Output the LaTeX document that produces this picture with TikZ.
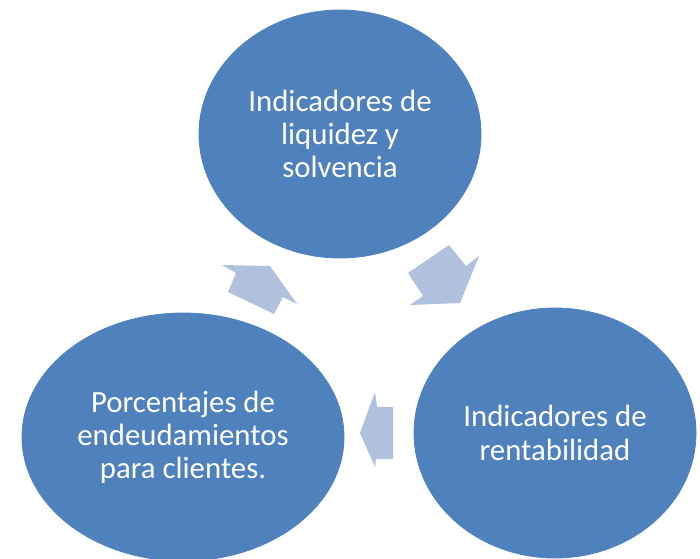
\documentclass[tikz,border=0pt]{standalone}
\usepackage{fontspec}
\setmainfont{Carlito}
\usetikzlibrary{shapes.geometric}
\definecolor{cycleblue}{HTML}{4F81BD}
\definecolor{arrowblue}{HTML}{B0C1DE}
\tikzset{
	phase/.style={ellipse, fill=cycleblue, draw=cycleblue, text=white, align=center,
		inner sep=0pt, font=\fontsize{15.4}{16.6}\selectfont},
	turn/.style={fill=arrowblue, draw=none}
}

\begin{document}
\begin{tikzpicture}[x=0.5pt, y=-0.5pt]
	\useasboundingbox (0,0) rectangle (700,558);
	\node[phase, minimum width=141pt, minimum height=124pt] (liq) at (340,134) {Indicadores de\\liquidez y\\solvencia};
	\node[phase, minimum width=141pt, minimum height=125pt] (rent) at (555,433) {Indicadores de\\rentabilidad};
	\node[phase, minimum width=161pt, minimum height=124pt] (porc) at (183,437) {Porcentajes de\\endeudamientos\\para clientes.};
	\fill[turn] (449,245) -- (466,266) -- (479,256) -- (460,303) -- (410,305) -- (423,296) -- (408,273) -- cycle;
	\fill[turn] (393,407) -- (393,459) -- (376,459) -- (375,467) -- (360,433) -- (375,392) -- (377,407) -- cycle;
	\fill[turn] (222,265) -- (270,266) -- (297,304) -- (283,297) -- (274,314) -- (228,292) -- (236,273) -- cycle;
\end{tikzpicture}
\end{document}
